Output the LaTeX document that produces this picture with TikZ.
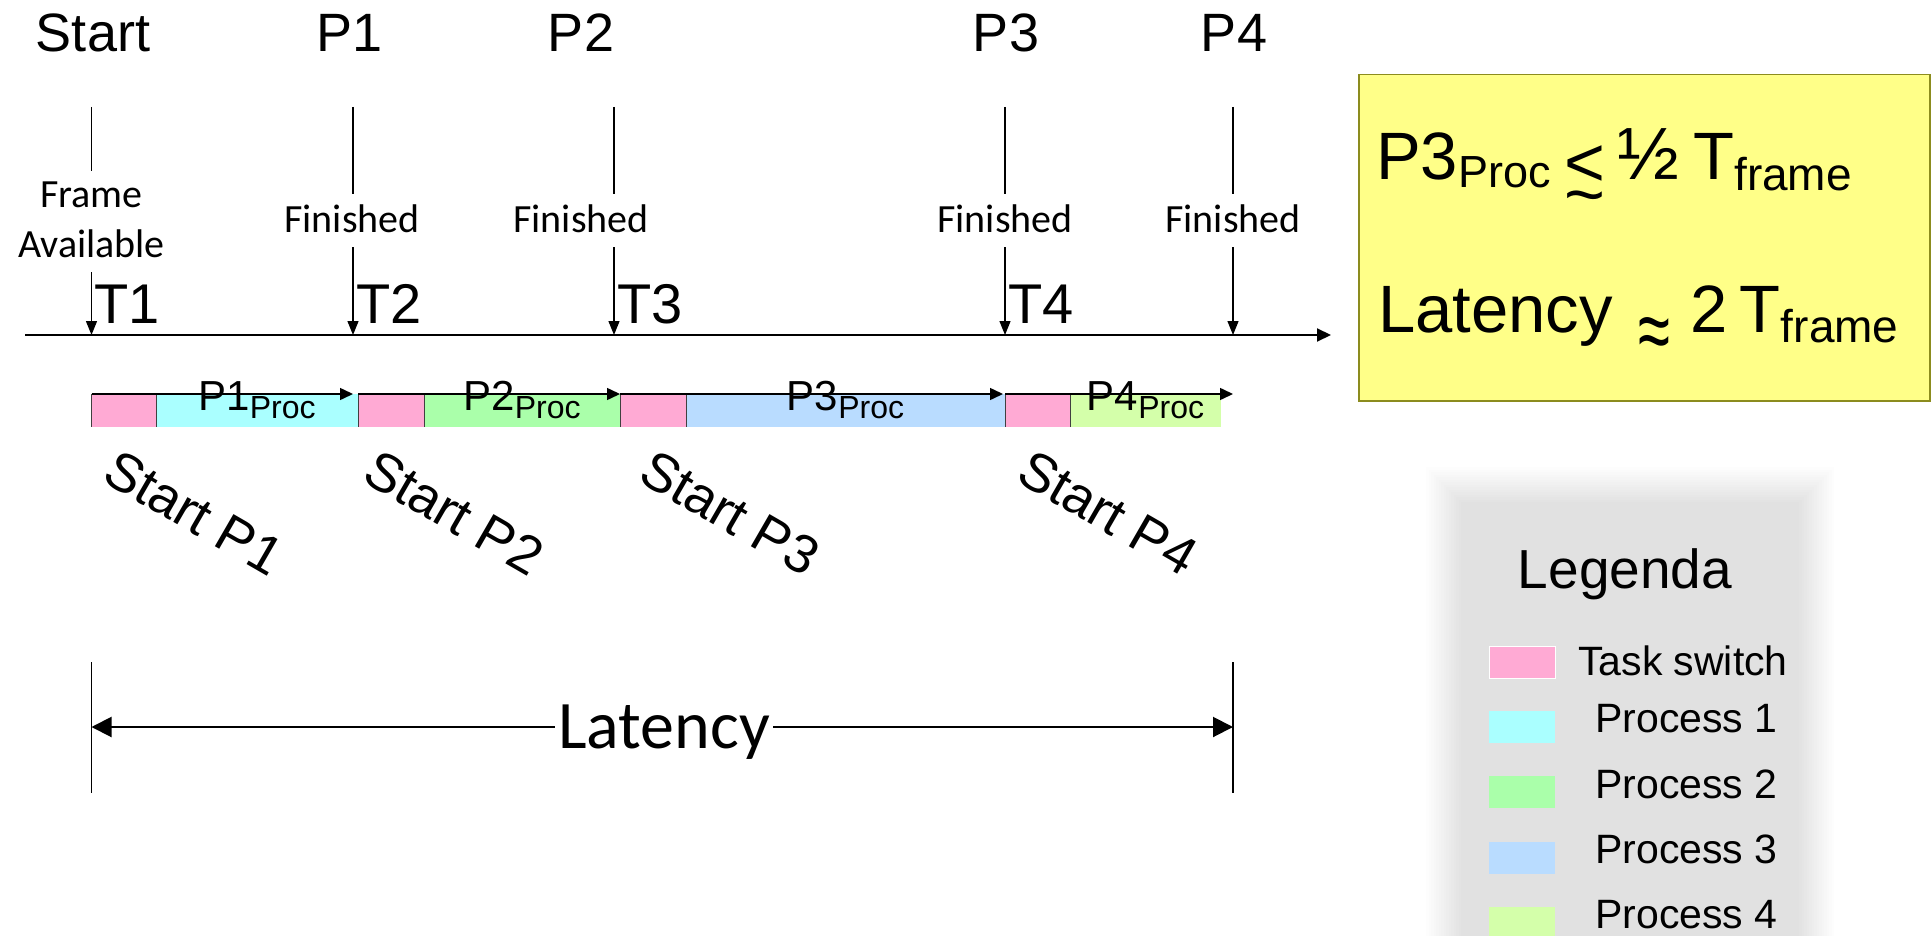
\documentclass[tikz,border=0pt]{standalone}
\usepackage{graphicx}
\usepackage{fontspec}
\setmainfont{Liberation Sans}
\newfontfamily\calibri{Carlito}
\usetikzlibrary{positioning,arrows.meta}

\definecolor{tswitch}{RGB}{255,170,212}
\definecolor{procA}{RGB}{170,255,255}
\definecolor{procB}{RGB}{170,255,170}
\definecolor{procC}{RGB}{185,220,255}
\definecolor{procD}{RGB}{212,255,170}
\definecolor{notefill}{RGB}{255,255,136}
\definecolor{noteline}{RGB}{140,140,30}

\newcommand{\fsz}[1]{\fontsize{#1}{#1}\selectfont}
\newcommand{\procsub}[1]{{\fsz{32}\raisebox{-8pt}{#1}}}
\newcommand{\lesstilde}{{\fsz{70}\raisebox{-7pt}{\makebox[0pt][l]{\raisebox{-32pt}{\textasciitilde}}<}}}
\newcommand{\approxeq}{{\fsz{58}\raisebox{-28pt}{\scalebox{1}[1.5]{≈}}}}

\begin{document}
\begin{tikzpicture}[x=1pt,y=-1pt,
  lbl/.style={font=\fsz{54}, anchor=base},
  fin/.style={font=\calibri\fsz{40}, anchor=base, inner sep=0},
  tlbl/.style={font=\fsz{56}, anchor=base west, inner sep=0},
  tick/.style={line width=1.3pt},
  tickarrow/.style={line width=1.3pt, -{Triangle[length=14pt,width=11pt]}},
  axis/.style={line width=2pt, -{Triangle[length=14pt,width=13pt]}},
  seg/.style={anchor=north west, minimum height=33pt, inner sep=0, outer sep=0},
  procarrow/.style={line width=1.5pt, -{Triangle[length=13pt,width=12pt]}},
  proclbl/.style={font=\fsz{42}, anchor=base, inner sep=0},
  startlbl/.style={font=\fsz{54}, rotate=-30, anchor=base west, inner sep=0},
  latarrow/.style={line width=2pt, {Triangle[length=20pt,width=20pt]}-{Triangle[length=20pt,width=20pt]}},
  key/.style={anchor=north west, minimum width=66pt, minimum height=32pt, inner sep=0},
  keytext/.style={font=\fsz{41}, anchor=base west, inner sep=0}]
\useasboundingbox (0,0) rectangle (1932,936);

% legend panel
\foreach \k in {0,...,14}
  \fill[black, opacity=0.007] (1426+2.5*\k,467+2.5*\k) rectangle (1834-2.5*\k,950);

\foreach \i/\x/\t in {0/93/Start,1/350/P1,2/581/P2,3/1006/P3,4/1234/P4}
  \node[lbl] (top\i) at (\x,52) {\t};

\node[font=\calibri\fontsize{40}{50}\selectfont, align=center, anchor=north, inner sep=0] (fin0) at (91.5,182) {Frame\\Available};
\foreach \i/\c in {1/352,2/581,3/1005,4/1233}
  \node[fin] (fin\i) at (\c,233) {Finished};

\coordinate (axl) at (25,335);
\coordinate (axr) at (1331,335);
\draw[axis] (axl) -- (axr);

\foreach \i/\x in {0/91.5,1/353,2/614,3/1005,4/1233}{
  \coordinate (up\i) at (\x,107);
  \coordinate (ax\i) at (\x,335);
  \draw[tick, shorten >=11pt] (up\i) -- (up\i |- fin\i.north);
  \draw[tickarrow, shorten <=14pt] (up\i |- fin\i.south) -- (ax\i);
}
\foreach \i/\x in {1/91.5,2/353,3/614,4/1005}
  \node[tlbl] (T\i) at (\x+3,323) {T\i};

\foreach \n/\a/\b/\c in {sw1/91.5/156/tswitch, pr1/156/358/procA, sw2/358/424/tswitch, pr2/424/620/procB, sw3/620/686/tswitch, pr3/686/1005/procC, sw4/1005/1070/tswitch, pr4/1070/1221/procD}{
  \pgfmathsetmacro\w{\b-\a}
  \node[seg, fill=\c, minimum width=\w pt] (\n) at (\a,394) {};
  \draw[line width=1pt, black!75] (\n.north west) -- (\n.south west);
}
\draw[procarrow] (sw1.north west) -- ([xshift=-5pt]pr1.north east);
\draw[procarrow] (sw2.north west) -- (pr2.north east);
\draw[procarrow] (sw3.north west) -- ([xshift=-2pt]pr3.north east);
\draw[procarrow] (sw4.north west) -- ([xshift=12pt]pr4.north east);
\foreach \i in {1,...,4}
  \node[proclbl] (plbl\i) at (pr\i.center) {P\i\procsub{Proc}};

\foreach \i/\x in {1/100,2/360,3/636,4/1014}
  \node[startlbl] (st\i) at (\x,480) {Start P\i};

\coordinate (lt0) at (91.5,662);
\coordinate (lb0) at (91.5,793);
\coordinate (lt1) at (1233,662);
\coordinate (lb1) at (1233,793);
\coordinate (lm0) at (91.5,727);
\coordinate (lm1) at (1233,727);
\draw[tick] (lt0) -- (lb0);
\draw[tick] (lt1) -- (lb1);
\draw[latarrow] (lm0) -- (lm1);
\node[fill=white, font=\calibri\fsz{68}, inner xsep=3pt, inner ysep=0, anchor=base] (lat) at (664,748) {Latency};

\node[draw=noteline, line width=1.5pt, fill=notefill, anchor=north west, minimum width=571pt, minimum height=326pt, inner sep=0] (note) at (1358,74) {};
\node[font=\fsz{67}, anchor=base west, inner sep=0] (eq1) at (1376,180)
  {P3{\fsz{45}\raisebox{-8pt}{Proc}}\hspace{14pt}\lesstilde\hspace{12pt}{\fsz{74}½}\hspace{14pt}T{\fsz{46}\raisebox{-10pt}{frame}}};
\node[font=\fsz{67}, anchor=base west, inner sep=0] (eq2) at (1378,332)
  {Latency\hspace{26pt}\approxeq\hspace{20pt}2\hspace{12pt}T{\fsz{46}\raisebox{-10pt}{frame}}};

\node[font=\fsz{55}, anchor=base] (leg) at (1625,588) {Legenda};
\foreach \i/\c/\y in {0/tswitch/646,1/procA/711,2/procB/776,3/procC/842,4/procD/907}
  \node[key, fill=\c] (k\i) at (1489,\y) {};
\draw[white, line width=1pt] (k0.north west) rectangle (k0.south east);
\node[keytext] (kt0) at (1578,675) {Task switch};
\foreach \i/\y in {1/732,2/798,3/863,4/928}
  \node[keytext] (kt\i) at (1595,\y) {Process \i};
\end{tikzpicture}
\end{document}
